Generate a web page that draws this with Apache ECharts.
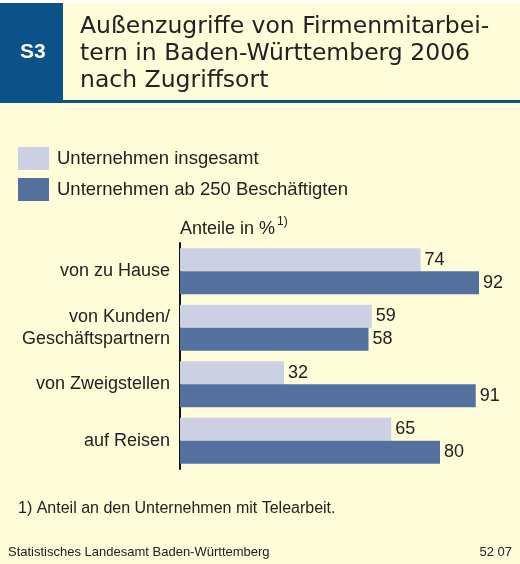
<!DOCTYPE html>
<html>
<head>
<meta charset="utf-8">
<script src="https://cdn.jsdelivr.net/npm/echarts@6/dist/echarts.min.js"></script>
<style>
  html, body { margin: 0; padding: 0; background: #fffcd9; }
  #chart { width: 520px; height: 564px; }
</style>
</head>
<body>
<div id="chart"></div>
<script>
// Daten
const categories = ['von zu Hause', 'von Kunden/\nGeschäftspartnern', 'von Zweigstellen', 'auf Reisen'];
const seriesNames = ['Unternehmen insgesamt', 'Unternehmen ab 250 Beschäftigten'];
const insgesamt = [74, 59, 32, 65];
const ab250 = [92, 58, 91, 80];

const FONT = '"Liberation Sans", Arial, sans-serif';
const TITLE_FONT = '"DejaVu Sans", sans-serif';
const TEXT = '#222222';

const chart = echarts.init(document.getElementById('chart'));

const labelStyle = {
    show: true,
    position: 'right',
    distance: 4,
    fontSize: 18,
    fontFamily: FONT,
    color: TEXT
};

const option = {
    backgroundColor: '#fffcd9',
    animation: false,
    textStyle: { fontFamily: FONT },
    legend: {
        orient: 'vertical',
        left: 18,
        top: 147,
        padding: 0,
        icon: 'rect',
        itemWidth: 31,
        itemHeight: 23,
        itemGap: 8,
        selectedMode: false,
        textStyle: { fontSize: 18.5, color: TEXT, fontFamily: FONT, padding: [0, 0, 0, 3] },
        data: seriesNames
    },
    grid: {
        left: 180,
        top: 243,
        width: 325,
        height: 226
    },
    xAxis: {
        type: 'value',
        min: 0,
        max: 100,
        show: false
    },
    yAxis: {
        type: 'category',
        inverse: true,
        data: categories,
        axisLine: { show: true, lineStyle: { color: '#111', width: 2 } },
        axisTick: { show: false },
        axisLabel: {
            margin: 10,
            fontSize: 18,
            lineHeight: 22,
            color: TEXT,
            fontFamily: FONT,
            align: 'right'
        }
    },
    series: [
        {
            name: seriesNames[0],
            type: 'bar',
            data: insgesamt,
            barWidth: 23,
            barGap: '0%',
            itemStyle: { color: '#ccd0e2' },
            label: labelStyle
        },
        {
            name: seriesNames[1],
            type: 'bar',
            data: ab250,
            barWidth: 23,
            barGap: '0%',
            itemStyle: { color: '#53709e' },
            label: labelStyle
        }
    ],
    graphic: [
        // Kopfzeile
        { type: 'rect', shape: { x: 0, y: 0, width: 520, height: 3 }, style: { fill: '#ffffff' } },
        { type: 'rect', shape: { x: 0, y: 3, width: 63, height: 98 }, style: { fill: '#0b5289' } },
        { type: 'rect', shape: { x: 0, y: 100, width: 520, height: 3 }, style: { fill: '#0b5289' } },
        {
            type: 'text', left: 20, top: 42,
            style: { text: 'S3', fill: '#ffffff', font: 'bold 21px ' + FONT }
        },
        {
            type: 'text', left: 80, top: 13,
            style: {
                text: 'Außenzugriffe von Firmenmitarbei-\ntern in Baden-Württemberg 2006\nnach Zugriffsort',
                fill: TEXT, font: '23.5px ' + TITLE_FONT, lineHeight: 27
            }
        },
        {
            type: 'text', left: 180, top: 220,
            style: { text: 'Anteile in %', fill: TEXT, font: '18px ' + FONT }
        },
        {
            type: 'text', left: 277, top: 216,
            style: { text: '1)', fill: TEXT, font: '12px ' + FONT }
        },
        {
            type: 'text', left: 18, top: 501,
            style: { text: '1) Anteil an den Unternehmen mit Telearbeit.', fill: TEXT, font: '16px ' + FONT }
        },
        {
            type: 'text', left: 8, top: 546,
            style: { text: 'Statistisches Landesamt Baden-Württemberg', fill: TEXT, font: '13px ' + FONT }
        },
        {
            type: 'text', right: 8, top: 546,
            style: { text: '52 07', fill: TEXT, font: '13px ' + FONT }
        }
    ]
};

chart.setOption(option);
</script>
</body>
</html>
